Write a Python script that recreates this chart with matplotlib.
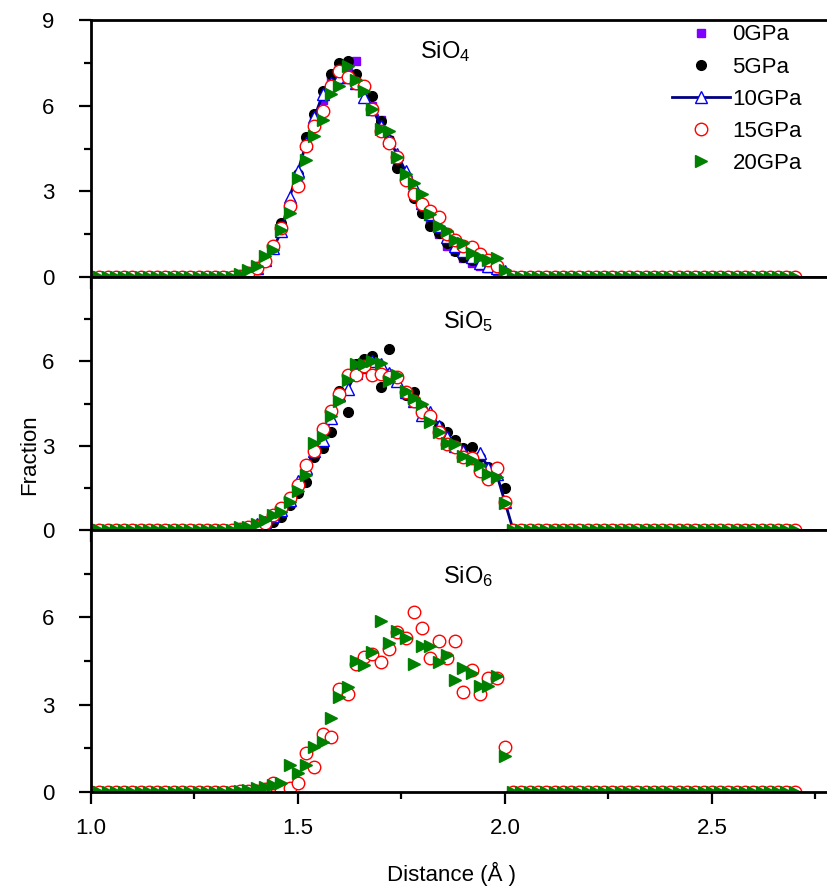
import numpy as np
import matplotlib
matplotlib.use('Agg')
import matplotlib.pyplot as plt
from matplotlib.ticker import MultipleLocator, FormatStrFormatter

plt.rcParams['font.family'] = ['Liberation Sans', 'DejaVu Sans']
plt.rcParams['mathtext.default'] = 'regular'

# distance grid (step 0.02 A); peaks live between 1.36 and 2.00, zero elsewhere
distance = np.round(np.arange(1.00, 2.701, 0.02), 2)
n_left = 18   # 1.00 .. 1.34
n_right = 35  # 2.02 .. 2.70

# SiO4, values from 1.36 to 2.00
sio4_0 = [0.05, 0.1, 0.25, 0.55, 1.0, 1.8, 2.6, 3.5, 4.7, 5.6, 6.2, 6.9, 7.3, 7.3, 7.55, 6.7, 6.0,
          5.5, 4.8, 4.0, 3.4, 2.8, 2.3, 1.9, 1.5, 1.1, 0.9, 0.65, 0.5, 0.4, 0.3, 0.2, 0.1]
sio4_5 = [0.05, 0.1, 0.3, 0.6, 1.1, 1.9, 2.6, 3.6, 4.9, 5.7, 6.5, 7.1, 7.5, 7.55, 7.1, 6.6, 6.35,
          5.45, 4.8, 3.8, 3.4, 2.75, 2.25, 1.8, 1.55, 1.2, 0.9, 0.7, 0.6, 0.5, 0.4, 0.3, 0.15]
sio4_10 = [0.05, 0.15, 0.3, 0.6, 1.0, 1.6, 2.8, 3.7, 4.7, 5.6, 6.4, 6.8, 7.0, 7.0, 6.8, 6.3, 5.9,
           5.3, 4.8, 4.3, 3.7, 3.2, 2.6, 2.2, 1.8, 1.4, 1.1, 0.9, 0.7, 0.5, 0.4, 0.3, 0.2]
sio4_15 = [0.05, 0.15, 0.3, 0.55, 1.1, 1.7, 2.5, 3.2, 4.6, 5.3, 5.8, 6.7, 7.2, 7.0, 6.8, 6.7, 5.9,
           5.1, 4.7, 4.2, 3.4, 2.9, 2.55, 2.3, 2.1, 1.5, 1.3, 1.1, 1.05, 0.8, 0.6, 0.4, 0.1]
sio4_20 = [0.1, 0.25, 0.4, 0.75, 0.95, 1.65, 2.25, 3.45, 4.1, 4.95, 5.5, 6.4, 6.7, 7.4, 6.9, 6.5, 5.9,
           5.2, 5.1, 4.2, 3.6, 3.3, 2.9, 2.2, 1.8, 1.6, 1.3, 1.2, 0.85, 0.7, 0.6, 0.65, 0.25]

# SiO5
sio5_5 = [0.05, 0.08, 0.15, 0.25, 0.3, 0.45, 0.9, 1.3, 1.7, 2.6, 2.9, 3.5, 4.95, 4.2, 5.9, 6.1, 6.2,
          5.1, 6.45, 5.4, 4.8, 4.9, 4.3, 4.0, 3.7, 3.5, 3.2, 2.9, 2.95, 2.6, 2.25, 2.25, 1.5]
sio5_10 = [0.05, 0.1, 0.2, 0.3, 0.5, 0.7, 1.05, 1.75, 2.2, 2.8, 3.2, 4.0, 4.8, 5.0, 5.6, 5.8, 6.0,
           5.9, 5.6, 5.3, 4.9, 4.6, 4.1, 4.2, 3.7, 3.3, 3.0, 2.8, 2.6, 2.75, 2.2, 2.0, 1.0]
sio5_15 = [0.05, 0.1, 0.15, 0.25, 0.55, 0.8, 1.15, 1.6, 2.3, 2.8, 3.6, 4.25, 4.85, 5.5, 5.5, 5.85, 5.5,
           5.55, 5.45, 5.45, 4.9, 4.6, 4.2, 4.05, 3.5, 3.05, 2.95, 2.6, 2.55, 2.1, 1.8, 2.2, 1.0]
sio5_20 = [0.1, 0.12, 0.23, 0.35, 0.53, 0.65, 1.0, 1.4, 1.95, 3.1, 3.3, 4.05, 4.6, 5.35, 5.9, 5.9, 6.0,
           5.95, 5.3, 5.5, 4.95, 4.7, 4.5, 3.85, 3.5, 3.1, 3.05, 2.65, 2.5, 2.3, 2.0, 1.9, 0.95]

# SiO6
sio6_15 = [0.02, 0.03, 0.05, 0.1, 0.3, 0.1, 0.13, 0.3, 1.33, 0.87, 2.0, 1.9, 3.55, 3.35, 4.4, 4.65, 4.75,
           4.45, 4.9, 5.5, 5.3, 6.2, 5.65, 4.6, 5.2, 4.6, 5.2, 3.45, 4.2, 3.35, 3.9, 3.9, 1.55]
sio6_20 = [0.05, 0.08, 0.13, 0.18, 0.25, 0.32, 0.93, 0.64, 0.93, 1.56, 1.73, 2.55, 3.25, 3.6, 4.5, 4.35, 4.8,
           5.87, 5.13, 5.53, 5.3, 4.38, 5.0, 5.0, 4.46, 4.72, 3.86, 4.27, 4.09, 3.63, 3.63, 3.98, 1.22]

labels = ['0GPa', '5GPa', '10GPa', '15GPa', '20GPa']
panel_names = ['SiO$_4$', 'SiO$_5$', 'SiO$_6$']


def full(vals):
    return np.concatenate([np.zeros(n_left), vals, np.zeros(n_right)])


styles = {
    '0GPa': dict(ls='none', marker='s', ms=6, mfc='#7f00ff', mec='#7f00ff'),
    '5GPa': dict(ls='none', marker='o', ms=7, mfc='black', mec='black'),
    '10GPa': dict(ls='-', lw=2, color='#000080', marker='^', ms=8, mfc='white', mec='#0000ff', mew=1),
    '15GPa': dict(ls='none', marker='o', ms=9, mfc='white', mec='#ff0000', mew=1),
    '20GPa': dict(ls='none', marker='>', ms=9, mfc='#008000', mec='#008000'),
}

panels = [
    {'0GPa': sio4_0, '5GPa': sio4_5, '10GPa': sio4_10, '15GPa': sio4_15, '20GPa': sio4_20},
    {'5GPa': sio5_5, '10GPa': sio5_10, '15GPa': sio5_15, '20GPa': sio5_20},
    {'15GPa': sio6_15, '20GPa': sio6_20},
]

fig = plt.figure(figsize=(8.28, 8.92), dpi=100)
W, H = 828, 892
tops = [20, 277, 530]
bots = [277, 530, 792]
x0, x1 = 91, 836

axes = []
for i, series in enumerate(panels):
    ax = fig.add_axes([x0 / W, 1 - bots[i] / H, (x1 - x0) / W, (bots[i] - tops[i]) / H])
    for lab in labels:
        if lab in series:
            ax.plot(distance, full(series[lab]), label=lab, **styles[lab])
    ax.set_xlim(1.0, 2.8)
    ax.set_ylim(0, 9)
    ax.xaxis.set_major_locator(MultipleLocator(0.5))
    ax.xaxis.set_minor_locator(MultipleLocator(0.25))
    ax.yaxis.set_major_locator(MultipleLocator(3))
    ax.yaxis.set_minor_locator(MultipleLocator(1.5))
    ax.tick_params(which='both', direction='out', width=1.6, labelsize=16, right=False, top=False)
    ax.tick_params(which='major', length=8.5)
    ax.tick_params(which='minor', length=5)
    ax.tick_params(axis='x', pad=10)
    ax.tick_params(axis='y', pad=18)
    for sp in ax.spines.values():
        sp.set_linewidth(2)
    if i < 2:
        ax.tick_params(axis='x', labelbottom=False)
    if i > 0:
        ax.set_yticks([0, 3, 6])
        ax.set_yticks([1.5, 4.5, 7.5], minor=True)
    ax.text(1.795 if i == 0 else 1.85, 7.9 if i == 0 else 7.4, panel_names[i], fontsize=17,
            ha='left', va='center')
    axes.append(ax)

axes[2].xaxis.set_major_formatter(FormatStrFormatter('%.1f'))

axes[0].legend(loc='upper left', bbox_to_anchor=((668 - x0) / (x1 - x0), 1.0), frameon=False,
               fontsize=16, handlelength=2.6, handletextpad=0.1, labelspacing=0.5,
               borderaxespad=0, borderpad=0.2)

fig.text(30 / W, 1 - 455 / H, 'Fraction', rotation=90, ha='center', va='center', fontsize=16)
fig.text(452 / W, 1 - 874 / H, 'Distance (Å )', ha='center', va='center', fontsize=16)

fig.savefig('out.png', dpi=100)
